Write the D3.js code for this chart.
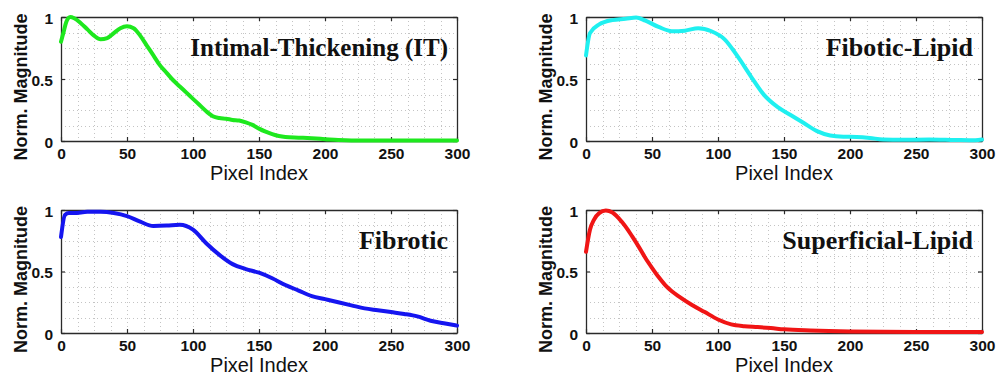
<!DOCTYPE html>
<html><head><meta charset="utf-8">
<script src="https://cdn.jsdelivr.net/npm/d3@7"></script>
<style>
html,body{margin:0;padding:0;background:#fff;}
svg{display:block;}
</style></head>
<body>
<svg id="chart" width="999" height="377"></svg>
<script>
// ---- data ----
const panelTitles = ["Intimal-Thickening (IT)", "Fibotic-Lipid", "Fibrotic", "Superficial-Lipid"];
const seriesColors = ["#1ee81e", "#1ff0f0", "#1515f0", "#f01515"];
const xTicks = [0, 50, 100, 150, 200, 250, 300];
const yTicks = [0, 0.5, 1];
const yTickLabels = ["0", "0.5", "1"];
const xLabel = "Pixel Index";
const yLabel = "Norm. Magnitude";

const itX = [0,2,4,7,10,15,20,25,30,35,40,45,50,55,60,65,70,75,80,85,90,95,100,105,110,115,120,125,130,135,140,145,150,155,160,165,170,180,190,200,210,220,240,260,280,300];
const itY = [0.80,0.88,0.96,1.0,0.99,0.95,0.90,0.85,0.82,0.83,0.87,0.91,0.925,0.91,0.85,0.77,0.69,0.61,0.55,0.49,0.44,0.39,0.34,0.29,0.24,0.20,0.185,0.18,0.17,0.165,0.15,0.13,0.10,0.075,0.055,0.04,0.032,0.027,0.022,0.015,0.008,0.005,0.005,0.005,0.005,0.005];

const flX = [0,3,10,20,30,38,45,55,65,75,85,95,105,115,125,135,145,155,165,175,185,195,205,215,225,240,260,280,295,300];
const flY = [0.69,0.87,0.94,0.975,0.985,0.995,0.97,0.92,0.885,0.89,0.91,0.885,0.82,0.68,0.52,0.37,0.275,0.21,0.145,0.08,0.045,0.035,0.033,0.025,0.012,0.01,0.012,0.008,0.006,0.012];

const fbX = [0,3,6,10,20,30,40,50,60,70,80,90,100,110,120,130,140,150,160,170,180,190,200,210,220,230,240,250,260,270,280,290,300];
const fbY = [0.78,0.96,0.975,0.975,0.985,0.985,0.975,0.95,0.905,0.87,0.873,0.88,0.84,0.73,0.635,0.56,0.52,0.49,0.445,0.39,0.345,0.30,0.275,0.25,0.225,0.20,0.185,0.17,0.155,0.135,0.10,0.08,0.06];

const slX = [0,3,6,10,15,20,25,30,35,40,45,50,55,60,65,70,80,90,100,110,120,130,140,150,170,200,250,300];
const slY = [0.66,0.84,0.92,0.975,0.995,0.98,0.93,0.865,0.785,0.70,0.61,0.53,0.455,0.39,0.34,0.30,0.23,0.17,0.11,0.07,0.055,0.048,0.04,0.03,0.02,0.012,0.008,0.008];

const seriesX = [itX, flX, fbX, slX];
const seriesY = [itY, flY, fbY, slY];

// ---- layout ----
const svg = d3.select("#chart");
const panelBoxes = [
  {x0:61, x1:457, y0:17, y1:141},
  {x0:586, x1:982, y0:17, y1:141},
  {x0:61, x1:457, y0:210, y1:333},
  {x0:586, x1:982, y0:210, y1:333}
];
const titleSizes = [25, 26, 26, 26];

panelBoxes.forEach((b, i) => {
  const x = d3.scaleLinear().domain([0, 300]).range([b.x0, b.x1]);
  const y = d3.scaleLinear().domain([0, 1]).range([b.y1, b.y0]);
  const g = svg.append("g");

  // grid (dotted)
  const gx = d3.range(0, 300.01, 12.5);
  const gy = d3.range(0, 1.0001, 0.125);
  g.append("g").selectAll("line").data(gx).join("line")
    .attr("x1", d => Math.round(x(d)) + 0.5).attr("x2", d => Math.round(x(d)) + 0.5)
    .attr("y1", b.y0).attr("y2", b.y1)
    .attr("stroke", "#c4c4c4").attr("stroke-width", 1).attr("stroke-dasharray", "1,3");
  g.append("g").selectAll("line").data(gy).join("line")
    .attr("y1", d => Math.round(y(d)) + 0.5).attr("y2", d => Math.round(y(d)) + 0.5)
    .attr("x1", b.x0).attr("x2", b.x1)
    .attr("stroke", "#c4c4c4").attr("stroke-width", 1).attr("stroke-dasharray", "1,3");

  // axes (box) with inward ticks
  const axB = d3.axisBottom(x).tickValues(xTicks).tickSizeInner(-4).tickSizeOuter(0).tickPadding(7).tickFormat(d3.format("d"));
  const axL = d3.axisLeft(y).tickValues(yTicks).tickSizeInner(-4).tickSizeOuter(0).tickPadding(8).tickFormat((d, k) => yTickLabels[k]);
  const axT = d3.axisTop(x).tickValues(xTicks).tickSizeInner(-4).tickSizeOuter(0).tickFormat("");
  const axR = d3.axisRight(y).tickValues(yTicks).tickSizeInner(-4).tickSizeOuter(0).tickFormat("");

  const styleAxis = sel => {
    sel.selectAll("path").attr("stroke", "#2a2a2a").attr("stroke-width", 1.3);
    sel.selectAll("line").attr("stroke", "#2a2a2a").attr("stroke-width", 1.2);
    sel.selectAll("text").attr("fill", "#111").attr("font-family", "Liberation Sans, Arial, sans-serif")
      .attr("font-weight", "bold").attr("font-size", 15.5);
  };
  g.append("g").attr("transform", `translate(0,${b.y1})`).call(axB).call(styleAxis);
  g.append("g").attr("transform", `translate(${b.x0},0)`).call(axL).call(styleAxis)
    .selectAll("text").attr("dy", "0.40em");
  g.append("g").attr("transform", `translate(0,${b.y0})`).call(axT).call(styleAxis);
  g.append("g").attr("transform", `translate(${b.x1},0)`).call(axR).call(styleAxis);

  // line
  const pts = seriesX[i].map((d, k) => [d, seriesY[i][k]]);
  g.append("path").datum(pts)
    .attr("fill", "none").attr("stroke", seriesColors[i]).attr("stroke-width", 4)
    .attr("stroke-linejoin", "round").attr("stroke-linecap", "round")
    .attr("d", d3.line().x(d => x(d[0])).y(d => y(d[1])).curve(d3.curveMonotoneX));

  // title
  g.append("text").attr("x", b.x1 - 9).attr("y", b.y0 + 39)
    .attr("text-anchor", "end").attr("font-family", "Liberation Serif, Times New Roman, serif")
    .attr("font-weight", "bold")
    .attr("font-size", titleSizes[i]).attr("fill", "#111").text(panelTitles[i]);

  // axis labels
  g.append("text").attr("x", (b.x0 + b.x1) / 2).attr("y", b.y1 + 39)
    .attr("text-anchor", "middle").attr("font-family", "Liberation Sans, Arial, sans-serif")
    .attr("font-size", 20).attr("fill", "#111").text(xLabel);
  g.append("text")
    .attr("transform", `translate(${b.x0 - 34},${(b.y0 + b.y1) / 2 + 8}) rotate(-90)`)
    .attr("text-anchor", "middle").attr("font-family", "Liberation Sans, Arial, sans-serif")
    .attr("font-weight", "bold").attr("font-size", 18).attr("fill", "#111").text(yLabel);
});
</script>
</body></html>
